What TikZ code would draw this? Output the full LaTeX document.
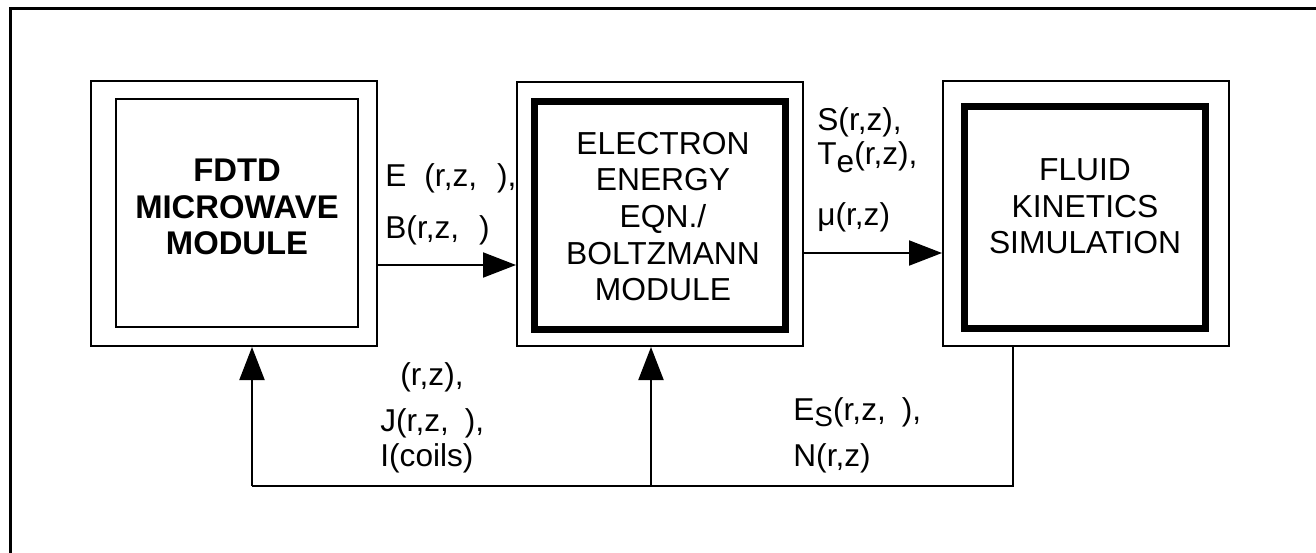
\documentclass[tikz,border=0pt]{standalone}
\usepackage{fontspec}
\setmainfont{Liberation Sans}
\usetikzlibrary{arrows.meta,calc}
\begin{document}
\begin{tikzpicture}[x=0.5pt,y=-0.5pt,
  thinbox/.style={draw,line width=1pt,inner sep=0pt},
  thickbox/.style={draw,line width=3.5pt,inner sep=0pt},
  boxtext/.style={align=center,font=\fontsize{15.9}{18.3}\selectfont},
  lbl/.style={anchor=west,inner sep=0pt,font=\fontsize{15.8}{18}\selectfont},
  conn/.style={line width=1pt},
  arr/.style={line width=1pt,-{Triangle[length=16.5pt,width=12.5pt]}}]
\useasboundingbox (0,0) rectangle (1316,552);
% frame (only top and left visible)
\draw[line width=1.3pt] (1320,8.5) -- (10.5,8.5) -- (10.5,556);
% boxes
\node[thinbox,minimum width=143pt,minimum height=132.5pt] (b1) at (234,213.5) {};
\node[thinbox,minimum width=121pt,minimum height=114pt] (b1i) at (237,213) {};
\node[boxtext,font=\bfseries\fontsize{16.4}{18.3}\selectfont] (t1) at (237,207) {FDTD\\MICROWAVE\\MODULE};
\node[thinbox,minimum width=143pt,minimum height=132pt] (b2) at (660,214) {};
\node[thickbox,minimum width=125.5pt,minimum height=114pt] (b2i) at (660,215) {};
\node[boxtext] (t2) at (663,216.5) {ELECTRON\\ENERGY\\EQN./\\BOLTZMANN\\MODULE};
\node[thinbox,minimum width=143pt,minimum height=132.5pt] (b3) at (1086,213.5) {};
\node[thickbox,minimum width=120.5pt,minimum height=111pt] (b3i) at (1085,217.5) {};
\node[boxtext] (t3) at (1085,206.5) {FLUID\\KINETICS\\SIMULATION};
% forward arrows
\coordinate (a1) at (377,265);
\draw[arr] (a1) -- (a1 -| b2.west);
\coordinate (a2) at (803,253);
\draw[arr] (a2) -- (a2 -| b3.west);
% feedback
\coordinate (fbR) at (1013,486);
\coordinate (fbL) at (252,486);
\coordinate (fbM) at (651,486);
\draw[conn] (fbR |- b3.south) -- (fbR) -- (fbL);
\draw[arr] (fbL) -- (fbL |- b1.south);
\draw[arr] (fbM) -- (fbM |- b2.south);
% labels
\node[lbl] (l1) at (385,178) {E\hspace{9pt}(r,z,\hspace{10pt}),};
\node[lbl] (l2) at (385,230) {B(r,z,\hspace{10pt})};
\node[lbl] (l3) at (817,122) {S(r,z),};
\node[lbl] (l4) at (817,157) {T\raisebox{-4pt}{e}(r,z),};
\node[lbl] (l5) at (817,217) {μ(r,z)};
\node[lbl] (l6) at (400,377) {(r,z),};
\node[lbl] (l7) at (380,423) {J(r,z,\hspace{8pt}),};
\node[lbl] (l8) at (380,458) {I(coils)};
\node[lbl] (l9) at (793,412) {E\raisebox{-3pt}{\fontsize{14}{14}\selectfont S}(r,z,\hspace{8pt}),};
\node[lbl] (l10) at (793,458) {N(r,z)};
\end{tikzpicture}
\end{document}
